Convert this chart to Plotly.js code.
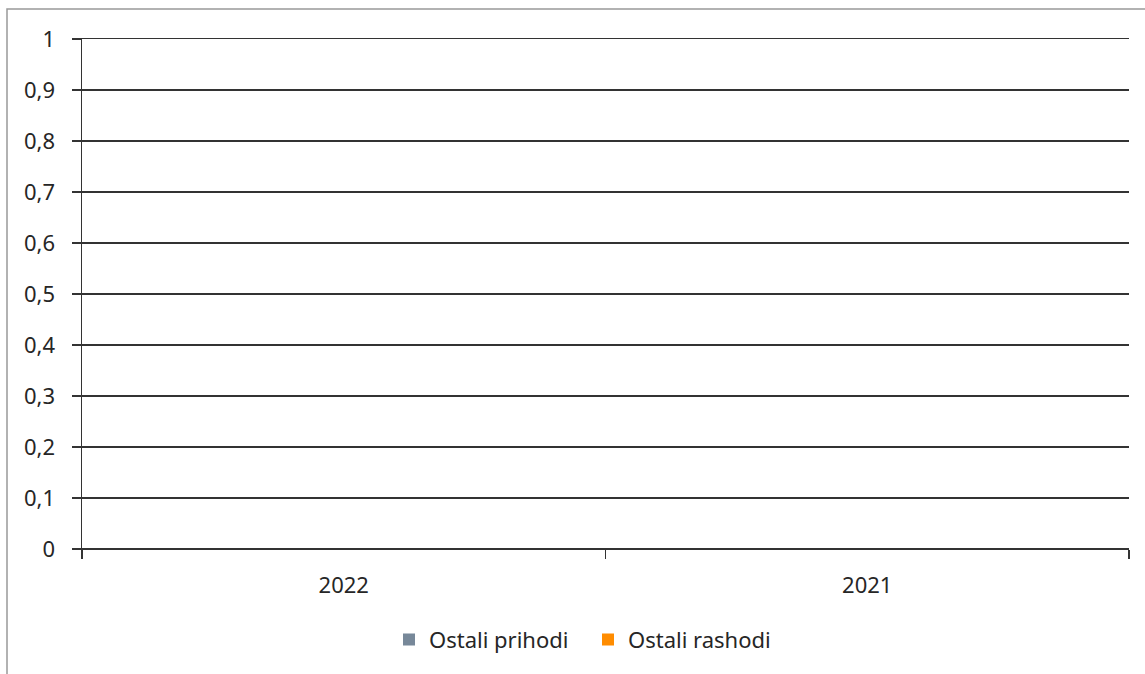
<!DOCTYPE html>
<html>
<head>
<meta charset="utf-8">
<script src="https://cdn.plot.ly/plotly-3.0.1.min.js"></script>
<style>
html,body{margin:0;padding:0;background:#fff;}
#chart{width:1145px;height:674px;}
</style>
</head>
<body>
<div id="chart"></div>
<script>
const categories = ["2022", "2021"];
const ostaliPrihodi = [0, 0];
const ostaliRashodi = [0, 0];
const seriesNames = ["Ostali prihodi", "Ostali rashodi"];

const FONT = "Noto Sans, Open Sans, DejaVu Sans, sans-serif";
const LINE = "#333";

const traces = [
  {type: "bar", name: seriesNames[0], x: categories, y: ostaliPrihodi, marker: {color: "#778899"}},
  {type: "bar", name: seriesNames[1], x: categories, y: ostaliRashodi, marker: {color: "#ff8c00"}}
];

const layout = {
  width: 1145, height: 674,
  margin: {l: 82, r: 16, t: 39, b: 125},
  paper_bgcolor: "#fff", plot_bgcolor: "#fff",
  separators: ",.",
  font: {family: FONT, size: 22, color: "#262626"},
  showlegend: true,
  legend: {orientation: "h", x: (389 - 82) / 1047, xanchor: "left", y: -0.178, yanchor: "middle",
           font: {family: FONT, size: 22, color: "#262626"}, traceorder: "normal", itemwidth: 30,
           entrywidth: 154, entrywidthmode: "pixels"},
  xaxis: {
    type: "category", showgrid: false, zeroline: false,
    showline: true, mirror: true, linecolor: LINE, linewidth: 1.2,
    ticks: "outside", tickson: "boundaries", ticklen: 9,
    tickcolor: LINE, tickwidth: 1.5, fixedrange: true,
    tickfont: {family: FONT, size: 22, color: "#262626"}, ticklabelstandoff: 16
  },
  yaxis: {
    range: [0, 1], dtick: 0.1, tick0: 0, showgrid: true, gridcolor: LINE, gridwidth: 1.2,
    zeroline: true, zerolinecolor: LINE, zerolinewidth: 1.2,
    showline: true, linecolor: LINE, linewidth: 1.5,
    ticks: "outside", ticklen: 9, tickcolor: LINE, tickwidth: 1.5,
    tickfont: {family: FONT, size: 22, color: "#262626"}, ticklabelstandoff: 12
  },
  shapes: [{
    type: "rect", xref: "paper", yref: "paper",
    x0: (7 - 82) / 1047, x1: 1.1, y0: -0.3, y1: 1 + 30 / 510,
    line: {color: "#999", width: 1.5}, fillcolor: "rgba(0,0,0,0)", layer: "below"
  }]
};

Plotly.newPlot("chart", traces, layout, {displayModeBar: false, staticPlot: true});
</script>
</body>
</html>
